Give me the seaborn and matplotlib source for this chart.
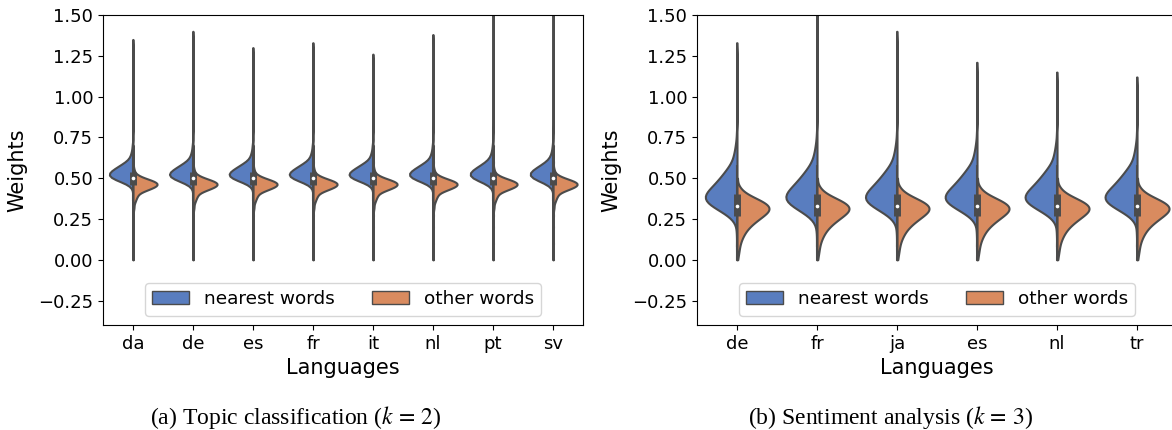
import matplotlib
matplotlib.use("Agg")
import matplotlib.pyplot as plt
import numpy as np
import pandas as pd
import seaborn as sns

# ---- data ----
topic_langs = ["da", "de", "es", "fr", "it", "nl", "pt", "sv"]
topic_near_vals = [0.00, 0.15, 0.30, 0.42, 0.46, 0.48, 0.50, 0.52, 0.54, 0.56, 0.58, 0.60, 0.63, 0.66, 0.70, 0.76]
topic_near_cnts = [1, 1, 1, 1, 4, 14, 26, 30, 26, 20, 14, 9, 5, 3, 2, 1]
topic_other_vals = [0.00, 0.10, 0.20, 0.27, 0.32, 0.36, 0.39, 0.42, 0.44, 0.46, 0.48, 0.50, 0.52, 0.55, 0.60, 0.70]
topic_other_cnts = [1, 1, 1, 1, 2, 4, 7, 12, 22, 30, 26, 12, 4, 2, 1, 1]
topic_tail_max = [1.35, 1.40, 1.30, 1.33, 1.26, 1.38, 1.60, 1.60]

sent_langs = ["de", "fr", "ja", "es", "nl", "tr"]
sent_near_vals = [0.00, 0.08, 0.16, 0.22, 0.25, 0.28, 0.31, 0.34, 0.37, 0.40, 0.43, 0.46, 0.49, 0.52, 0.55, 0.58, 0.62, 0.66, 0.71, 0.78]
sent_near_cnts = [1, 1, 1, 1, 3, 8, 15, 22, 26, 25, 21, 17, 14, 11, 8, 6, 4, 3, 2, 1]
sent_other_vals = [0.00, 0.03, 0.06, 0.09, 0.12, 0.15, 0.18, 0.21, 0.24, 0.27, 0.30, 0.33, 0.36, 0.39, 0.42, 0.45, 0.50]
sent_other_cnts = [1, 2, 3, 4, 6, 9, 13, 19, 27, 36, 44, 44, 34, 19, 8, 3, 1]
sent_tail_max = [1.33, 1.60, 1.40, 1.21, 1.15, 1.12]

groups = ["nearest words", "other words"]


def build(langs, near_vals, near_cnts, other_vals, other_cnts, tail_max):
    rows = []
    for lang, top in zip(langs, tail_max):
        near = np.append(np.repeat(near_vals, near_cnts), top)
        other = np.repeat(other_vals, other_cnts)
        rows += [(lang, groups[0], v) for v in near]
        rows += [(lang, groups[1], v) for v in other]
    return pd.DataFrame(rows, columns=["Languages", "group", "Weights"])


def draw(ax, df, langs, bw):
    sns.violinplot(data=df, x="Languages", y="Weights", hue="group", order=langs,
                   hue_order=groups, split=True, inner=None, palette="muted",
                   cut=0, linewidth=1.5, linecolor="#4b4b4b", bw_adjust=bw,
                   density_norm="area", ax=ax)
    # inner box on the pooled data, like the old seaborn split violins
    for i, lang in enumerate(langs):
        v = df.loc[df["Languages"] == lang, "Weights"].values
        q1, med, q3 = np.percentile(v, [25, 50, 75])
        iqr = q3 - q1
        lo = v[v >= q1 - 1.5 * iqr].min()
        hi = v[v <= q3 + 1.5 * iqr].max()
        ax.vlines(i, lo, hi, color="#4b4b4b", lw=1.5, zorder=3)
        ax.vlines(i, q1, q3, color="#4b4b4b", lw=5, zorder=3)
        ax.scatter([i], [med], color="white", s=7, zorder=4, linewidths=0)
    ax.set_ylim(-0.4, 1.5)
    ax.set_yticks(np.arange(-0.25, 1.51, 0.25))
    ax.set_xlim(-0.5, len(langs) - 0.5)
    ax.set_xlabel("Languages", fontsize=15)
    ax.set_ylabel("Weights", fontsize=15, labelpad=8)
    ax.tick_params(labelsize=13)
    h, l = ax.get_legend_handles_labels()
    for p in h:
        p.set_linewidth(1.0)
    ax.legend(h, l, ncol=2, loc="lower center", fontsize=13.3)


df_topic = build(topic_langs, topic_near_vals, topic_near_cnts,
                 topic_other_vals, topic_other_cnts, topic_tail_max)
df_sent = build(sent_langs, sent_near_vals, sent_near_cnts,
                sent_other_vals, sent_other_cnts, sent_tail_max)

plt.rcParams["mathtext.fontset"] = "stix"
fig = plt.figure(figsize=(11.72, 4.30), dpi=100)
ax1 = fig.add_axes([0.0879, 0.2442, 0.4096, 0.7209])
ax2 = fig.add_axes([0.5947, 0.2442, 0.4096, 0.7209])

draw(ax1, df_topic, topic_langs, 0.6)
draw(ax2, df_sent, sent_langs, 0.8)

fig.text(296 / 1172, 0.028, "(a) Topic classification ($k\\,=\\,2$)", ha="center", va="center",
         fontsize=17, family="Liberation Serif")
fig.text(890 / 1172, 0.028, "(b) Sentiment analysis ($k\\,=\\,3$)", ha="center", va="center",
         fontsize=17, family="Liberation Serif")

fig.savefig("out.png", dpi=100)
